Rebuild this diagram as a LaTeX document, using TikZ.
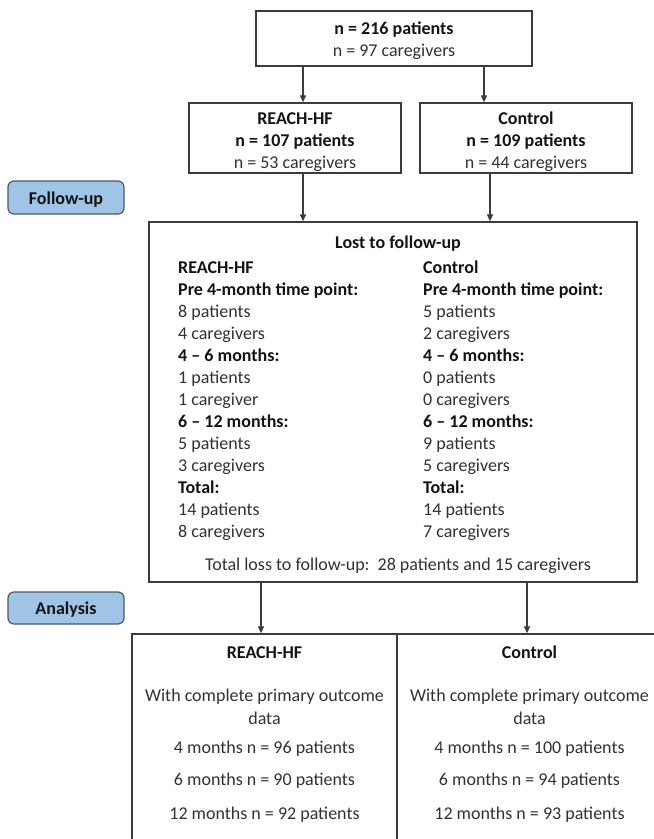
\documentclass[tikz,border=0pt]{standalone}
\usepackage{fontspec}
\setmainfont{Carlito}
\usetikzlibrary{arrows.meta}
\definecolor{linec}{RGB}{60,60,60}
\definecolor{txtc}{RGB}{50,50,50}
\definecolor{boldc}{RGB}{20,20,20}
\definecolor{labfill}{RGB}{160,196,230}
\definecolor{labdraw}{RGB}{75,90,105}
\begin{document}
\begin{tikzpicture}[x=1pt,y=-1pt,
  box/.style={draw=linec, line width=1.3pt, inner sep=0pt, fill=white},
  arr/.style={draw=linec, line width=1.1pt, -{Triangle[length=7pt,width=6pt]}},
  txt/.style={inner sep=0pt, font=\fontsize{18}{22}\selectfont, text=txtc},
  btxt/.style={inner sep=0pt, font=\fontsize{18}{22}\selectfont\bfseries, text=boldc},
  lab/.style={draw=labdraw, fill=labfill, line width=1.2pt, rounded corners=6pt, minimum width=116pt, inner sep=0pt}
]
\useasboundingbox (0,0) rectangle (654,839);
\clip (0,0) rectangle (654,839);

% boxes
\node[box, minimum width=276pt, minimum height=55pt] (top) at (394,38.5) {};
\node[box, minimum width=212pt, minimum height=70pt] (reach) at (295,138) {};
\node[box, minimum width=212pt, minimum height=70pt] (ctrl) at (526,138) {};
\node[box, minimum width=488pt, minimum height=360pt] (lost) at (393,402) {};
\node[box, minimum width=265pt, minimum height=226pt] (breach) at (264.5,747) {};
\node[box, minimum width=265pt, minimum height=226pt] (bctrl) at (529.5,747) {};

% side labels
\node[lab, minimum height=33pt] (follow) at (66,197.5) {};
\node[btxt, anchor=base] (followt) at (66,204) {Follow-up};
\node[lab, minimum height=32pt] (analysis) at (66,608) {};
\node[btxt, anchor=base] (analysist) at (66,614) {Analysis};

% arrow x positions
\coordinate (x1) at (303,0);
\coordinate (x2) at (484,0);
\coordinate (x3) at (490,0);
\coordinate (x4) at (261,0);
\coordinate (x5) at (527,0);
\draw[arr] (top.south -| x1) -- (reach.north -| x1);
\draw[arr] (top.south -| x2) -- (ctrl.north -| x2);
\draw[arr] (reach.south -| x1) -- (lost.north -| x1);
\draw[arr] (ctrl.south -| x3) -- (lost.north -| x3);
\draw[arr] (lost.south -| x4) -- (breach.north -| x4);
\draw[arr] (lost.south -| x5) -- (bctrl.north -| x5);

% top box text
\node[btxt, anchor=base] (t1) at (394,34) {n = 216 patients};
\node[txt, anchor=base] (t2) at (394,56) {n = 97 caregivers};

% second row
\node[btxt, anchor=base] (r1) at (295,124) {REACH-HF};
\node[btxt, anchor=base] (r2) at (295,146) {n = 107 patients};
\node[txt, anchor=base] (r3) at (295,168) {n = 53 caregivers};
\node[btxt, anchor=base] (c1) at (526,124) {Control};
\node[btxt, anchor=base] (c2) at (526,146) {n = 109 patients};
\node[txt, anchor=base] (c3) at (526,168) {n = 44 caregivers};

% lost to follow-up
\node[btxt, anchor=base] (lt) at (398,248) {Lost to follow-up};
\foreach \s/\t [count=\i from 0] in {btxt/REACH-HF, btxt/Pre 4-month time point:, txt/8 patients, txt/4 caregivers, btxt/4 – 6 months:, txt/1 patients, txt/1 caregiver, btxt/6 – 12 months:, txt/5 patients, txt/3 caregivers, btxt/Total:, txt/14 patients, txt/8 caregivers}
  \node[\s, anchor=base west] (ll\i) at (178,273+22.08*\i) {\t};
\foreach \s/\t [count=\i from 0] in {btxt/Control, btxt/Pre 4-month time point:, txt/5 patients, txt/2 caregivers, btxt/4 – 6 months:, txt/0 patients, txt/0 caregivers, btxt/6 – 12 months:, txt/9 patients, txt/5 caregivers, btxt/Total:, txt/14 patients, txt/7 caregivers}
  \node[\s, anchor=base west] (lr\i) at (423,273+22.08*\i) {\t};
\node[txt, anchor=base] (ltot) at (398,570) {Total loss to follow-up:\ \ 28 patients and 15 caregivers};

% bottom boxes text
\node[btxt, anchor=base] (b1) at (264.5,658) {REACH-HF};
\node[txt, anchor=base] (b2) at (264.5,701) {With complete primary outcome};
\node[txt, anchor=base] (b3) at (264.5,724) {data};
\node[txt, anchor=base] (b4) at (264.5,753) {4 months n = 96 patients};
\node[txt, anchor=base] (b5) at (264.5,785) {6 months n = 90 patients};
\node[txt, anchor=base] (b6) at (264.5,819) {12 months n = 92 patients};
\node[btxt, anchor=base] (d1) at (529.5,658) {Control};
\node[txt, anchor=base] (d2) at (529.5,701) {With complete primary outcome};
\node[txt, anchor=base] (d3) at (529.5,724) {data};
\node[txt, anchor=base] (d4) at (529.5,753) {4 months n = 100 patients};
\node[txt, anchor=base] (d5) at (529.5,785) {6 months n = 94 patients};
\node[txt, anchor=base] (d6) at (529.5,819) {12 months n = 93 patients};
\end{tikzpicture}
\end{document}
